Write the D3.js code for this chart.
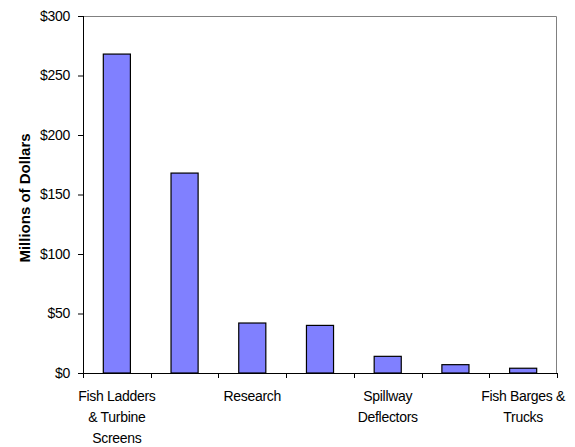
<!DOCTYPE html>
<html>
<head>
<meta charset="utf-8">
<script src="https://cdn.jsdelivr.net/npm/d3@7"></script>
<style>
  body { margin: 0; background: #fff; }
  svg { display: block; font-family: "Liberation Sans", Arial, sans-serif; }
</style>
</head>
<body>
<div id="chart"></div>
<script>
// category labels as printed (every other category is unlabelled in the original)
const categories = [
  ["Fish Ladders", "& Turbine", "Screens"],
  [],
  ["Research"],
  [],
  ["Spillway", "Deflectors"],
  [],
  ["Fish Barges &", "Trucks"]
];
const values = [268, 168, 42, 40, 14, 7, 4];
const yTicks = [0, 50, 100, 150, 200, 250, 300];

var width = 575, height = 447,
    margin = {top: 16, right: 18, bottom: 74, left: 83},
    w = width - margin.left - margin.right,
    h = height - margin.top - margin.bottom;

var svg = d3.select("#chart").append("svg")
    .attr("width", width)
    .attr("height", height);

var g = svg.append("g")
    .attr("transform", "translate(" + margin.left + "," + margin.top + ")");

var x = d3.scaleBand()
    .domain(d3.range(values.length))
    .range([0, w])
    .paddingInner(0)
    .paddingOuter(0);

var y = d3.scaleLinear().domain([0, 300]).range([h, 0]);

var barW = x.bandwidth() / 2.5;

// top and right frame
g.append("path")
    .attr("d", "M0,0.5H" + (w - 0.5) + "V" + h)
    .attr("fill", "none")
    .attr("stroke", "#808080");

// bars
g.selectAll(".bar")
    .data(values)
  .enter().append("rect")
    .attr("class", "bar")
    .attr("x", function(d, i) { return x(i) + (x.bandwidth() - barW) / 2; })
    .attr("y", function(d) { return y(d); })
    .attr("width", barW)
    .attr("height", function(d) { return h - y(d); })
    .attr("fill", "#8080ff")
    .attr("stroke", "#000")
    .attr("stroke-width", 1.2);

// y axis
var yAxis = g.append("g")
    .call(d3.axisLeft(y).tickValues(yTicks).tickSize(5).tickPadding(8)
      .tickFormat(function(d) { return "$" + d; }));
yAxis.select(".domain").attr("stroke", "#000").attr("d", "M0.5,0V" + h);
yAxis.selectAll("line").attr("stroke", "#000");
yAxis.selectAll("text").attr("font-size", 14).attr("fill", "#000")
    .attr("letter-spacing", "-0.3px")
    .attr("font-family", "Liberation Sans, Arial, sans-serif");

// x axis with ticks at category boundaries
var xAxis = g.append("g").attr("transform", "translate(0," + h + ")");
xAxis.append("line")
    .attr("x1", 0).attr("x2", w)
    .attr("y1", 0.5).attr("y2", 0.5)
    .attr("stroke", "#000");
xAxis.selectAll(".tick")
    .data(d3.range(values.length + 1))
  .enter().append("line")
    .attr("class", "tick")
    .attr("x1", function(i) { return Math.round(i * x.step()) + 0.5; })
    .attr("x2", function(i) { return Math.round(i * x.step()) + 0.5; })
    .attr("y1", 0).attr("y2", 5)
    .attr("stroke", "#000");

var labels = xAxis.selectAll(".label")
    .data(categories)
  .enter().append("text")
    .attr("class", "label")
    .attr("text-anchor", "middle")
    .attr("font-size", 14)
    .attr("letter-spacing", "-0.3px")
    .attr("fill", "#000")
    .attr("transform", function(d, i) { return "translate(" + (x(i) + x.bandwidth() / 2) + ",0)"; });

labels.selectAll("tspan")
    .data(function(d) { return d; })
  .enter().append("tspan")
    .attr("x", 0)
    .attr("y", function(d, j) { return 28 + j * 21; })
    .text(function(d) { return d; });

// y title
svg.append("text")
    .attr("transform", "translate(30,198) rotate(-90)")
    .attr("text-anchor", "middle")
    .attr("font-size", 15)
    .attr("font-weight", "bold")
    .attr("fill", "#000")
    .text("Millions of Dollars");
</script>
</body>
</html>
